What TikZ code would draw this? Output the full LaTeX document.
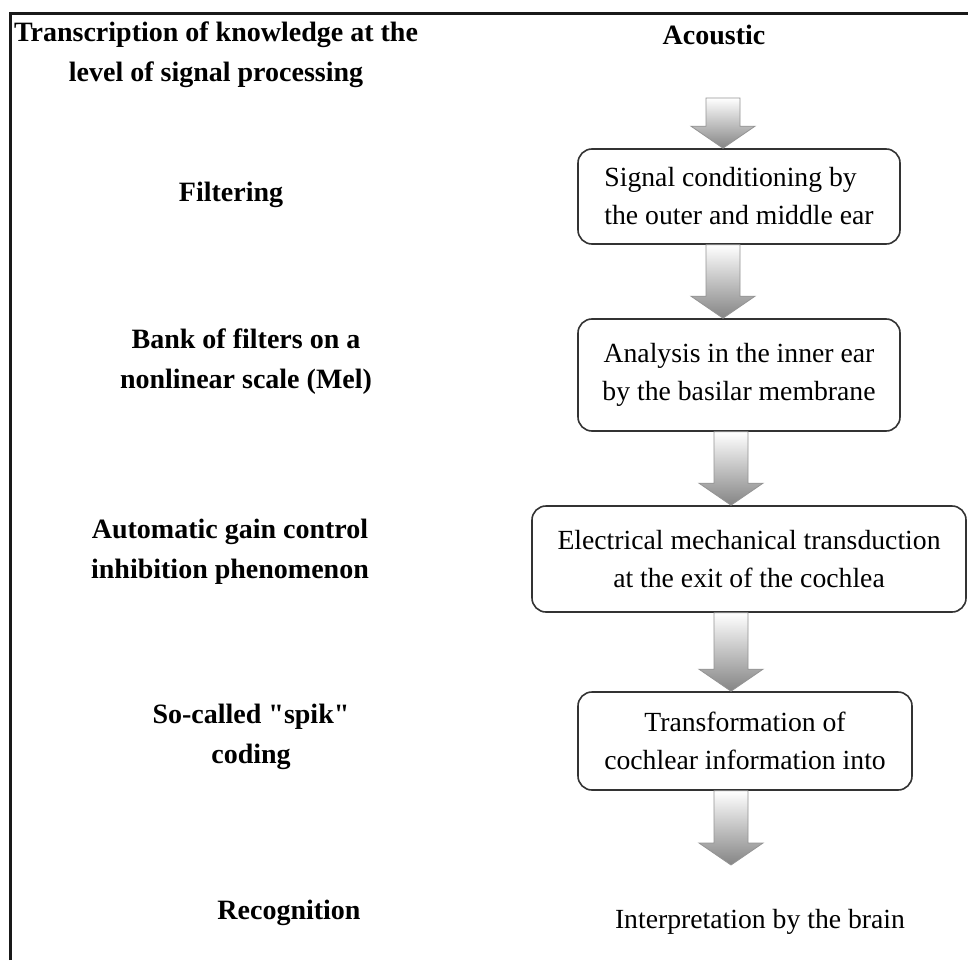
\documentclass[tikz,border=0pt]{standalone}
\usepackage{fontspec}
\setmainfont{Liberation Serif}[Ligatures=TeXOff]
\usetikzlibrary{calc}

\tikzset{
  lbl/.style={font=\fontsize{28}{40}\selectfont\bfseries, align=center, inner sep=0pt},
  plain/.style={font=\fontsize{27.7}{38}\selectfont, align=center, inner sep=0pt},
  stage/.style={draw=black!80, line width=1.6pt, rounded corners=14pt, fill=white,
    font=\fontsize{27.7}{38}\selectfont, inner sep=0pt},
  fatarrow/.style={top color=white, bottom color=black!48, draw=black!42,
    line width=0.8pt, line join=miter,
    to path={let \p1=(\tikztostart), \p2=(\tikztotarget) in
      (\x1-17pt,\y1) -- (\x1+17pt,\y1) -- (\x1+17pt,\y2+22pt) -- (\x1+32pt,\y2+22pt)
      -- (\x1,\y2) -- (\x1-32pt,\y2+22pt) -- (\x1-17pt,\y2+22pt) -- cycle}}
}

\begin{document}
\begin{tikzpicture}[x=1pt, y=1pt]
  \useasboundingbox (0,0) rectangle (968,-960);
  \fill[white] (0,0) rectangle (968,-960);

  % frame: top rule and left rule
  \draw[black!90, line width=3pt] (10,-960) -- (10,-14) -- (968,-14);

  % left column: level of signal processing
  \node[lbl] (title) at (216,-55) {Transcription of knowledge at the\\level of signal processing};
  \node[lbl] (filt)  at (231,-195) {Filtering};
  \node[lbl] (bank)  at (246,-362) {Bank of filters on a\\nonlinear scale (Mel)};
  \node[lbl] (agc)   at (230,-552) {Automatic gain control\\inhibition phenomenon};
  \node[lbl] (spik)  at (251,-737) {So-called "spik"\\coding};
  \node[lbl] (recog) at (289,-913) {Recognition};

  % right column: auditory chain
  \node[lbl] (acoustic) at (714,-35) {Acoustic};
  \node[stage, minimum width=322pt, minimum height=95pt, align=left] (b1) at (739,-196.5)
    {Signal conditioning by\\the outer and middle ear};
  \node[stage, minimum width=322pt, minimum height=112pt, align=center] (b2) at (739,-375)
    {Analysis in the inner ear\\by the basilar membrane};
  \node[stage, minimum width=434pt, minimum height=106pt, align=center] (b3) at (749,-559)
    {Electrical mechanical transduction\\at the exit of the cochlea};
  \node[stage, minimum width=334pt, minimum height=98pt, align=center] (b4) at (745,-741)
    {Transformation of\\cochlear information into};
  \node[plain] (interp) at (760,-922) {Interpretation by the brain};

  % arrow columns
  \coordinate (colA) at (723,0);
  \coordinate (colB) at (731,0);
  \coordinate (a1s) at (723,-98);
  \coordinate (a2s) at (b1.south -| colA);
  \coordinate (a3s) at (b2.south -| colB);
  \coordinate (a4s) at (b3.south -| colB);
  \coordinate (a5s) at (b4.south -| colB);
  \coordinate (a5e) at (731,-865);

  \path[fatarrow] (a1s) to (b1.north);
  \path[fatarrow] (a2s) to (b2.north);
  \path[fatarrow] (a3s) to (b3.north);
  \path[fatarrow] (a4s) to (b4.north);
  \path[fatarrow] (a5s) to (a5e);
\end{tikzpicture}
\end{document}
